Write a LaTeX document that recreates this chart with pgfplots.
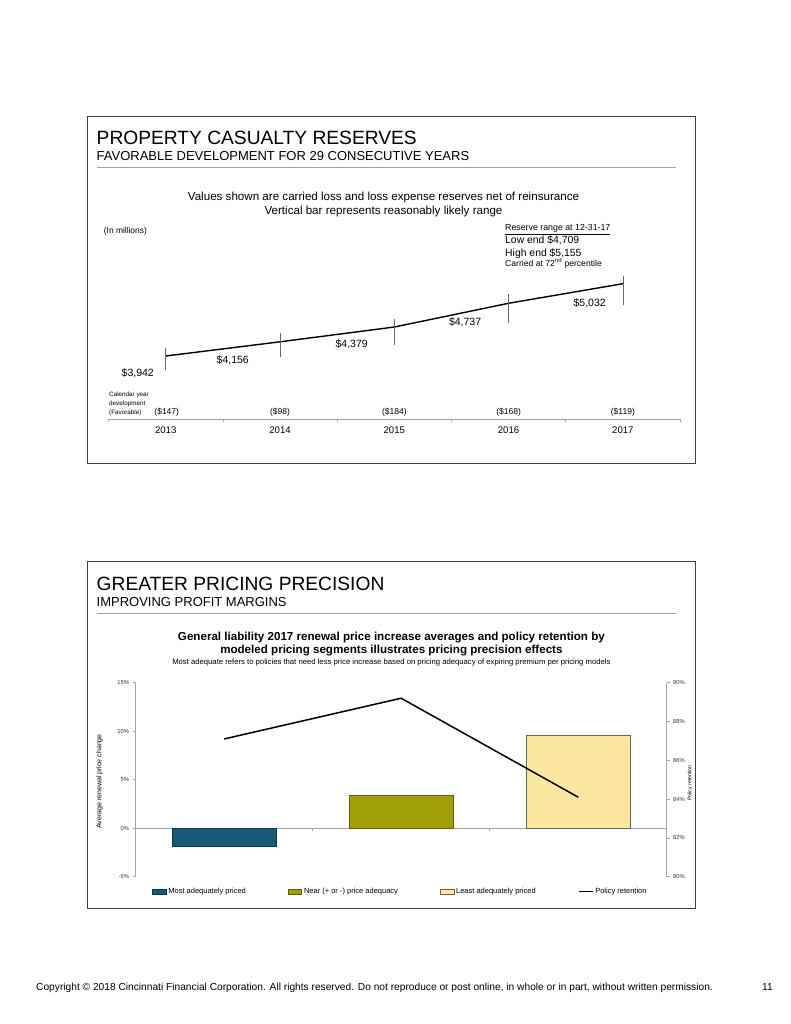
\documentclass[border=0pt]{standalone}
\usepackage{pgfplots}
\pgfplotsset{compat=1.18}
\usepackage{fontspec}
\setmainfont{Liberation Sans}
\definecolor{rulec}{HTML}{8FA9B9}
\definecolor{barA}{HTML}{165A7A}
\definecolor{barAd}{HTML}{0C3447}
\definecolor{barB}{HTML}{A39F08}
\definecolor{barBd}{HTML}{5E5C10}
\definecolor{barC}{HTML}{FDE7A0}
\definecolor{barCd}{HTML}{6B6450}
\newcommand{\fs}[1]{\fontsize{#1}{#1}\selectfont}
\begin{document}
\begin{tikzpicture}[x=1pt,y=-1pt]
\useasboundingbox[fill=white] (0,0) rectangle (791,1024);
% ---------------- top panel ----------------
\draw[black!75, line width=0.9pt] (87,116) rectangle (695,463);
\node[anchor=base west, inner sep=0] at (96.5,144.3) {\fs{19.2}PROPERTY CASUALTY RESERVES};
\node[anchor=base west, inner sep=0] at (96.5,161) {\fs{13}FAVORABLE DEVELOPMENT FOR 29 CONSECUTIVE YEARS};
\draw[rulec, line width=1pt] (96.5,167.7) -- (676,167.7);
\node[anchor=base, inner sep=0] at (383.5,200.7) {\fs{11.6}Values shown are carried loss and loss expense reserves net of reinsurance};
\node[anchor=base, inner sep=0] at (383.5,214.3) {\fs{11.6}Vertical bar represents reasonably likely range};
\node[anchor=base west, inner sep=0] at (103.7,233.3) {\fs{8.4}(In millions)};
\node[anchor=base west, inner sep=0] at (505,231) {\fs{8.8}\underline{Reserve range at 12-31-17}};
\node[anchor=base west, inner sep=0] at (505,243.3) {\fs{10.4}Low end \$4,709};
\node[anchor=base west, inner sep=0] at (505,256) {\fs{10.4}High end \$5,155};
\node[anchor=base west, inner sep=0] at (505,266.7) {\fs{8.6}Carried at 72\textsuperscript{nd} percentile};
\node[anchor=base west, inner sep=0] at (109,396) {\fs{6.3}Calendar year};
\node[anchor=base west, inner sep=0] at (109,405) {\fs{6.3}development};
\node[anchor=base west, inner sep=0] at (109,414) {\fs{6.3}(Favorable)};
\begin{axis}[at={(108.6pt,-419.3pt)}, anchor=south west, scale only axis,
  width=571.4pt, height=149.3pt,
  xmin=-0.5, xmax=4.5, ymin=2987.7, ymax=5238.6,
  axis y line=none, axis x line*=bottom,
  x axis line style={black!35, line width=0.6pt},
  tick style={black!35, line width=0.6pt}, tick align=outside,
  xtick={0,1,2,3,4}, xticklabels={2013,2014,2015,2016,2017},
  major tick length=0pt,
  extra x ticks={-0.5,0.5,1.5,2.5,3.5,4.5}, extra x tick labels={},
  extra x tick style={major tick length=3pt},
  xticklabel style={font=\fs{9.6}, yshift=-4pt},
  clip=false]
\addplot[black, line width=1.4pt, mark=none,
  error bars/.cd, y dir=both, y explicit, error mark=none,
  error bar style={black!60, line width=0.6pt}]
  coordinates {
  (0,3942) += (0,125) -= (0,211)
  (1,4156) += (0,137) -= (0,234)
  (2,4379) += (0,121) -= (0,267)
  (3,4737) += (0,145) -= (0,293)
  (4,5032) += (0,123) -= (0,323)
  };
\node[anchor=base, inner sep=0, font=\fs{10.5}] at (axis cs:0,3942) [xshift=-28pt, yshift=-20.7pt] {\$3,942};
\node[anchor=base, inner sep=0, font=\fs{10.5}] at (axis cs:1,4156) [xshift=-47.3pt, yshift=-21.5pt] {\$4,156};
\node[anchor=base, inner sep=0, font=\fs{10.5}] at (axis cs:2,4379) [xshift=-42.6pt, yshift=-20.7pt] {\$4,379};
\node[anchor=base, inner sep=0, font=\fs{10.5}] at (axis cs:3,4737) [xshift=-43.5pt, yshift=-22.4pt] {\$4,737};
\node[anchor=base, inner sep=0, font=\fs{10.5}] at (axis cs:4,5032) [xshift=-33.2pt, yshift=-22.3pt] {\$5,032};
\node[anchor=base, inner sep=0, font=\fs{8.5}] at (axis cs:0,3067.6) [xshift=1pt] {(\$147)};
\node[anchor=base, inner sep=0, font=\fs{8.5}] at (axis cs:1,3067.6) {(\$98)};
\node[anchor=base, inner sep=0, font=\fs{8.5}] at (axis cs:2,3067.6) {(\$184)};
\node[anchor=base, inner sep=0, font=\fs{8.5}] at (axis cs:3,3067.6) {(\$168)};
\node[anchor=base, inner sep=0, font=\fs{8.5}] at (axis cs:4,3067.6) {(\$119)};
\end{axis}
% ---------------- bottom panel ----------------
\draw[black!75, line width=0.9pt] (87,561.7) rectangle (695,908);
\node[anchor=base west, inner sep=0] at (96.5,590) {\fs{19.2}GREATER PRICING PRECISION};
\node[anchor=base west, inner sep=0] at (96.5,606.7) {\fs{13}IMPROVING PROFIT MARGINS};
\draw[rulec, line width=1pt] (96.5,613.3) -- (676,613.3);
\node[anchor=base, inner sep=0] at (391.4,640) {\fs{11.6}\bfseries General liability 2017 renewal price increase averages and policy retention by};
\node[anchor=base, inner sep=0] at (391.4,653.3) {\fs{11.6}\bfseries modeled pricing segments illustrates pricing precision effects};
\node[anchor=base, inner sep=0] at (391.4,664) {\fs{7.7}Most adequate refers to policies that need less price increase based on pricing adequacy of expiring premium per pricing models};
\node[rotate=90, inner sep=0] at (99.5,781.5) {\fs{7}Average renewal price change};
\node[rotate=90, inner sep=0] at (690,783) {\fs{5.2}Policy retention};
\begin{axis}[at={(135.6pt,-876.7pt)}, anchor=south west, scale only axis,
  width=531.1pt, height=194pt,
  xmin=-0.5, xmax=2.5, ymin=-5, ymax=15,
  ytick={-5,0,5,10,15},
  axis y line*=left, axis x line=none,
  y axis line style={black!35, line width=0.6pt},
  tick style={black!35, line width=0.6pt}, tick align=outside, major tick length=3pt,
  yticklabel={\pgfmathprintnumber{\tick}\%},
  yticklabel style={font=\fs{5.8}, text=black!80},
  /pgf/number format/assume math mode=true,
  extra y ticks={0}, extra y tick labels={},
  extra y tick style={grid=major, major grid style={black!35, line width=0.6pt}},
  ybar, bar width=0.585,
  legend columns=4,
  legend style={at={(0.031,-0.077)}, anchor=west, draw=none, fill=none,
    inner sep=0pt, font=\fs{7.5},
    /tikz/every even column/.append style={column sep=40pt}},
  legend cell align=left,
  clip=false]
\addplot[fill=barA, draw=barAd, line width=0.7pt, bar shift=0pt,
  legend image code/.code={\draw[fill=barA, draw=barAd, line width=0.6pt] (0pt,-2.5pt) rectangle (13.5pt,2.5pt);}]
  coordinates {(0,-1.9)};
\addlegendentry{Most adequately priced}
\addplot[fill=barB, draw=barBd, line width=0.7pt, bar shift=0pt,
  legend image code/.code={\draw[fill=barB, draw=barBd, line width=0.6pt] (0pt,-2.5pt) rectangle (13.5pt,2.5pt);}]
  coordinates {(1,3.4)};
\addlegendentry{Near (+ or -) price adequacy}
\addplot[fill=barC, draw=barCd, line width=0.7pt, bar shift=0pt,
  legend image code/.code={\draw[fill=barC, draw=barCd, line width=0.6pt] (0pt,-2.5pt) rectangle (13.5pt,2.5pt);}]
  coordinates {(2,9.6)};
\addlegendentry{Least adequately priced}
\addlegendimage{legend image code/.code={\draw[black, line width=1.5pt] (0pt,0pt) -- (14pt,0pt);}}
\addlegendentry{Policy retention}
\draw[black!35, line width=0.6pt] (axis cs:0.5,0) -- ++(0pt,-3pt);
\draw[black!35, line width=0.6pt] (axis cs:1.5,0) -- ++(0pt,-3pt);
\end{axis}
\begin{axis}[at={(135.6pt,-876.7pt)}, anchor=south west, scale only axis,
  width=531.1pt, height=194pt,
  xmin=-0.5, xmax=2.5, ymin=80, ymax=90,
  ytick={80,82,84,86,88,90},
  axis y line*=right, axis x line=none,
  y axis line style={black!35, line width=0.6pt},
  tick style={black!35, line width=0.6pt}, tick align=outside, major tick length=3pt,
  yticklabel={\pgfmathprintnumber{\tick}\%},
  yticklabel style={font=\fs{5.8}, text=black!80},
  /pgf/number format/assume math mode=true,
  clip=false]
\addplot[black, line width=1.5pt, mark=none] coordinates {(0,87.1) (1,89.2) (2,84.1)};
\end{axis}
% ---------------- footer ----------------
\node[anchor=base west, inner sep=0] at (36,990.7) {\fs{10.2}Copyright © 2018 Cincinnati Financial Corporation. All rights reserved. Do not reproduce or post online, in whole or in part, without written permission.};
\node[anchor=base west, inner sep=0] at (762,990.7) {\fs{10.2}11};
\end{tikzpicture}
\end{document}
